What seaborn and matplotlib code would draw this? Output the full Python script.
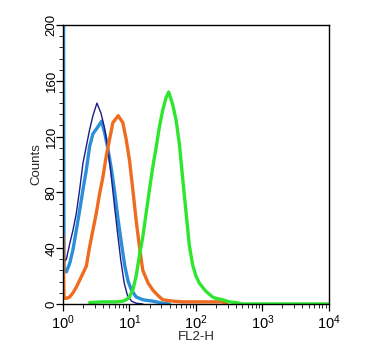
import numpy as np
import seaborn as sns
import matplotlib.pyplot as plt
from matplotlib.ticker import LogLocator, MultipleLocator, NullFormatter

# log10(FL2-H) positions and counts
navy_x = [0.00, 0.05, 0.10, 0.15, 0.20, 0.25, 0.30, 0.35, 0.40, 0.45, 0.51,
          0.57, 0.62, 0.67, 0.72, 0.77, 0.82, 0.87, 0.92, 0.97, 1.03, 1.10, 1.20]
navy_y = [30, 32, 43, 53, 65, 82, 101, 113, 125, 135, 144,
          137, 127, 113, 94, 72, 51, 31, 15, 6, 2, 0.5, 0]

blue_x = [0.00, 0.015, 0.05, 0.10, 0.15, 0.20, 0.25, 0.30, 0.35, 0.40, 0.45, 0.51,
          0.58, 0.63, 0.68, 0.73, 0.78, 0.83, 0.88, 0.93, 0.98, 1.03, 1.10,
          1.20, 1.35, 1.50, 1.60]
blue_y = [400, 25, 23, 29, 39, 53, 67, 82, 96, 113, 122, 126,
          131, 122, 110, 96, 79, 60, 43, 27, 16, 10, 5,
          3, 2, 0.5, 0]

orange_x = [0.00, 0.015, 0.05, 0.10, 0.15, 0.20, 0.25, 0.30, 0.35, 0.40, 0.45,
            0.50, 0.55, 0.60, 0.65, 0.70, 0.75, 0.83, 0.90, 0.95, 1.00, 1.05,
            1.10, 1.15, 1.20, 1.28, 1.35, 1.43, 1.50, 1.65, 1.80, 2.00, 2.20,
            2.40, 2.46]
orange_y = [50, 4, 4, 5, 8, 12, 17, 22, 27, 41, 53,
            65, 79, 91, 106, 118, 130, 135, 130, 118, 103, 82,
            60, 41, 24, 15, 10, 6, 3, 2, 1.5, 1.5, 1.5,
            1.5, 0]

green_x = [0.40, 0.60, 0.80, 0.90, 0.95, 1.00, 1.05, 1.10, 1.15, 1.20, 1.25,
           1.30, 1.35, 1.40, 1.45, 1.50, 1.55, 1.59, 1.65, 1.70, 1.75, 1.80,
           1.85, 1.90, 1.95, 2.00, 2.05, 2.10, 2.15, 2.20, 2.25, 2.30, 2.40,
           2.50, 2.60, 2.70, 4.00]
green_y = [1, 1.5, 1.5, 2, 3, 5, 10, 20, 35, 48, 65,
           82, 98, 112, 127, 139, 148, 152, 143, 132, 115, 90,
           66, 42, 28, 20, 15, 12, 9, 7, 5, 4, 3,
           1.5, 1, 0, 0]

series = [
    (blue_x, blue_y, '#2a8fd8', 2.4),
    (navy_x, navy_y, '#1c1c8a', 1.0),
    (orange_x, orange_y, '#ef6b1f', 2.4),
    (green_x, green_y, '#2fe62f', 2.4),
]

sns.set_style('ticks')
plt.rcParams['font.family'] = ['Liberation Sans', 'DejaVu Sans']
plt.rcParams['mathtext.default'] = 'regular'

fig = plt.figure(figsize=(3.82, 3.53), dpi=100)
ax = fig.add_axes([0.165, 0.139, 0.696, 0.790])

for xs, ys, col, lw in series:
    sns.lineplot(x=10 ** np.array(xs), y=ys, color=col, lw=lw, ax=ax, sort=False)

ax.set_xscale('log')
ax.set_xlim(1, 1e4)
ax.set_ylim(0, 200)
ax.xaxis.set_major_locator(LogLocator(base=10, numticks=10))
ax.xaxis.set_minor_locator(LogLocator(base=10, subs=np.arange(2, 10), numticks=20))
ax.xaxis.set_minor_formatter(NullFormatter())
ax.yaxis.set_major_locator(MultipleLocator(40))
ax.yaxis.set_minor_locator(MultipleLocator(8))

for s in ax.spines.values():
    s.set_linewidth(1.0)
    s.set_color('black')
ax.tick_params(which='major', direction='out', length=5, width=0.9, labelsize=9.5, colors='black')
ax.tick_params(which='minor', direction='out', length=3, width=0.7)
ax.tick_params(axis='x', labelsize=10.5, pad=2)
ax.tick_params(axis='y', pad=-1)
for lab in ax.get_yticklabels():
    lab.set_rotation(90)
    lab.set_va('center')

ax.set_xlabel('FL2-H', fontsize=9.5, labelpad=-1)
ax.set_ylabel('Counts', fontsize=9.5, labelpad=2)

fig.savefig('out.png', dpi=100)
